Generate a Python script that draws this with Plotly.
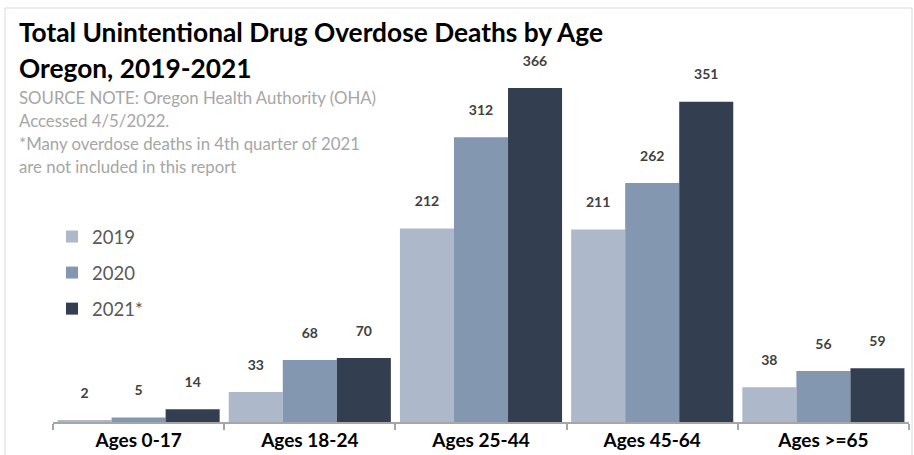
import plotly.graph_objects as go

categories = ["Ages 0-17", "Ages 18-24", "Ages 25-44", "Ages 45-64", "Ages >=65"]
series_names = ["2019", "2020", "2021*"]
values_2019 = [2, 33, 212, 211, 38]
values_2020 = [5, 68, 312, 262, 56]
values_2021 = [14, 70, 366, 351, 59]
colors = ["#ADB9CA", "#8497B0", "#333F50"]

title_line1 = "Total Unintentional Drug Overdose Deaths by Age"
title_line2 = "Oregon, 2019-2021"
notes = [
    "SOURCE NOTE: Oregon Health Authority (OHA)",
    "Accessed 4/5/2022.",
    "*Many overdose deaths in 4th quarter of 2021",
    "are not included in this report",
]

W, H = 914, 455
ML, MR, MT, MB = 53, 5, 40, 33
PW = W - ML - MR
PH = H - MT - MB
FONT = "Lato"

def px(x):
    return (x - ML) / PW

def py(y):
    return (H - MB - y) / PH

fig = go.Figure()
for name, vals, col in zip(series_names, [values_2019, values_2020, values_2021], colors):
    fig.add_trace(go.Bar(
        x=categories, y=vals, name=name, marker=dict(color=col, line=dict(width=0)),
        text=vals, texttemplate="<b>%{y}</b><br><span style='font-size:6px'> </span>",
        textposition="outside", cliponaxis=False,
        textfont=dict(family=FONT, size=14, color="#404040"),
        legendgroup=name,
    ))

annotations = [
    dict(text="<b>" + title_line1 + "</b>", x=px(17), y=py(32), xanchor="left", yanchor="middle",
         font=dict(family=FONT, size=26.3, color="#000000")),
    dict(text="<b>" + title_line2 + "</b>", x=px(17), y=py(68), xanchor="left", yanchor="middle",
         font=dict(family=FONT, size=26.3, color="#000000")),
]
for i, t in enumerate(notes):
    annotations.append(dict(text=t, x=px(17), y=py(97 + 23 * i), xanchor="left", yanchor="middle",
                            font=dict(family=FONT, size=16.8, color="#A6A6A6")))
for a in annotations:
    a.update(xref="paper", yref="paper", showarrow=False)

fig.update_layout(
    width=W, height=H,
    margin=dict(l=ML, r=MR, t=MT, b=MB, pad=0),
    paper_bgcolor="white", plot_bgcolor="white",
    barmode="group", bargap=0.053, bargroupgap=0,
    showlegend=True,
    legend=dict(x=px(52), y=py(218), xanchor="left", yanchor="top",
                font=dict(family=FONT, size=18.5, color="#595959"),
                tracegroupgap=9, itemwidth=30, bgcolor="rgba(0,0,0,0)"),
    xaxis=dict(showline=True, linecolor="#A6A6A6", linewidth=1.5, ticks="outside",
               tickson="boundaries", ticklen=6, tickcolor="#A6A6A6", tickwidth=1.5,
               tickfont=dict(family=FONT, size=19, color="#000000"),
               showgrid=False, zeroline=False, fixedrange=True),
    yaxis=dict(range=[0, PH / 0.9126], visible=False, showgrid=False, zeroline=False),
    annotations=annotations,
    shapes=[dict(type="rect", xref="paper", yref="paper", x0=px(5), x1=px(912), y0=py(470), y1=py(8),
                 line=dict(color="#D9D9D9", width=1), fillcolor="rgba(0,0,0,0)", layer="below")],
    font=dict(family=FONT),
)
fig.update_xaxes(tickprefix="<b>", ticksuffix="</b>")

fig.write_html("out.html")
